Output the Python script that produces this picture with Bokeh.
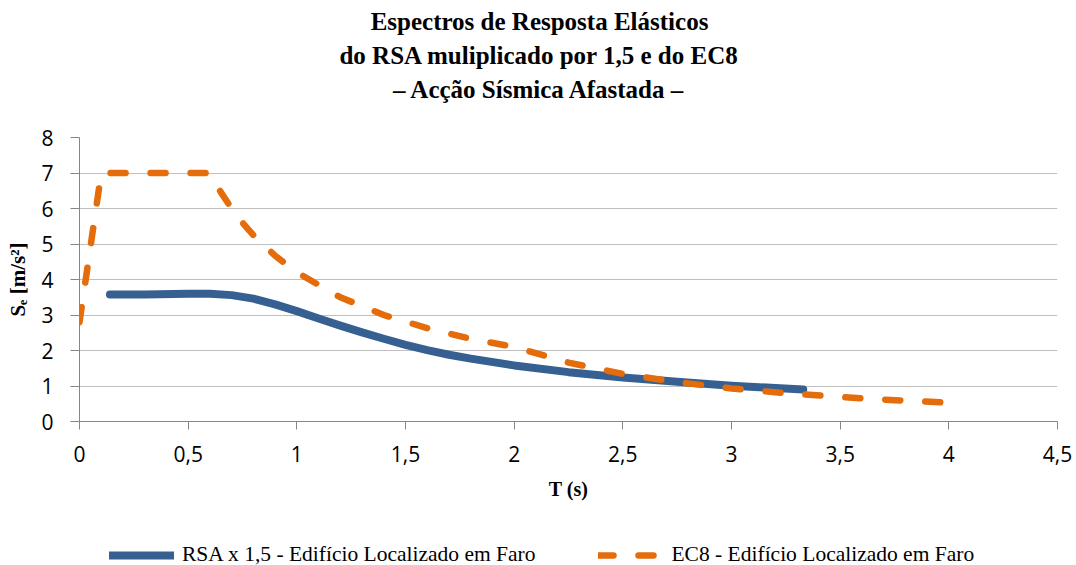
from bokeh.plotting import figure
from bokeh.models import Legend, LegendItem, FixedTicker, Range1d, Label
from bokeh.layouts import column
from bokeh.embed import file_html
from bokeh.resources import INLINE

# ---------------- data ----------------
title_lines = ["Espectros de Resposta Elásticos",
               "do RSA muliplicado por 1,5 e do EC8",
               "– Acção Sísmica Afastada –"]
x_label = "T (s)"
y_label = "Sₑ [m/s²]"

x_ticks = [0, 0.5, 1, 1.5, 2, 2.5, 3, 3.5, 4, 4.5]
x_tick_labels = ["0", "0,5", "1", "1,5", "2", "2,5", "3", "3,5", "4", "4,5"]
y_ticks = [0, 1, 2, 3, 4, 5, 6, 7, 8]

rsa_name = "RSA x 1,5 - Edifício Localizado em Faro"
rsa_T = [0.14, 0.3, 0.5, 0.6, 0.7, 0.8, 0.9, 1.0, 1.1, 1.2, 1.3, 1.4, 1.5,
         1.6, 1.7, 1.8, 2.0, 2.25, 2.5, 2.75, 3.0, 3.33]
rsa_Se = [3.58, 3.58, 3.60, 3.60, 3.56, 3.46, 3.30, 3.11, 2.90, 2.70, 2.51,
          2.33, 2.16, 2.01, 1.88, 1.77, 1.58, 1.39, 1.24, 1.12, 1.01, 0.90]

ec8_name = "EC8 - Edifício Localizado em Faro"
ec8_T = [0, 0.05, 0.1, 0.2, 0.3, 0.4, 0.5, 0.6, 0.65, 0.7, 0.75, 0.8, 0.9,
         1.0, 1.2, 1.4, 1.6, 1.8, 2.0, 2.25, 2.5, 2.75, 3.0, 3.25, 3.5, 3.75, 4.0]
ec8_Se = [2.8, 4.9, 7.0, 7.0, 7.0, 7.0, 7.0, 7.0, 6.46, 6.0, 5.6, 5.25, 4.67,
          4.2, 3.5, 3.0, 2.63, 2.33, 2.1, 1.66, 1.34, 1.11, 0.93, 0.8, 0.69,
          0.6, 0.53]

RSA_COLOR = "#376092"
EC8_COLOR = "#E46C0A"
W = 1076
H_TITLE, H_MAIN, H_LEG = 110, 410, 45
FRAME_LEFT = 79          # frames of the stacked figures are aligned to this


def blank_fig(height, yr=(0, 1)):
    f = figure(width=W, height=height, output_backend="svg", toolbar_location=None,
               x_range=Range1d(0, 1), y_range=Range1d(*yr),
               x_axis_location=None, y_axis_location=None,
               min_border_left=0, min_border_right=0,
               min_border_top=0, min_border_bottom=0)
    f.outline_line_color = None
    f.grid.visible = False
    return f


# ---------------- title block ----------------
pt = blank_fig(H_TITLE)
baselines = [21, 55, 89]          # baseline distance from the block top
for txt, b in zip(title_lines, baselines):
    pt.add_layout(Label(x=539 - FRAME_LEFT, y=H_TITLE - b,
                        x_units="screen", y_units="screen",
                        text=txt, text_align="center", text_baseline="alphabetic",
                        text_font="Liberation Serif", text_font_style="bold",
                        text_font_size="25px", text_color="black"))

# ---------------- main chart ----------------
p = figure(width=W, height=H_MAIN, output_backend="svg", toolbar_location=None,
           x_range=Range1d(0, 4.5), y_range=Range1d(0, 8),
           min_border_left=FRAME_LEFT, min_border_right=19,
           min_border_top=27, min_border_bottom=99)
p.outline_line_color = None
p.xgrid.grid_line_color = None
p.ygrid.grid_line_color = "#BFBFBF"
p.ygrid.grid_line_width = 1

AX = "#868686"
p.xaxis.ticker = FixedTicker(ticks=x_ticks)
p.xaxis.major_label_overrides = {float(t): l for t, l in zip(x_ticks, x_tick_labels)}
p.yaxis.ticker = FixedTicker(ticks=y_ticks)

for ax in (p.xaxis, p.yaxis):
    ax.axis_line_color = AX
    ax.axis_line_width = 1
    ax.major_tick_line_color = AX
    ax.major_tick_in = 0
    ax.minor_tick_line_color = None
    ax.major_label_text_font = "Open Sans"
    ax.major_label_text_font_size = "21px"
    ax.major_label_text_color = "black"
    ax.axis_label_text_font = "Liberation Serif"
    ax.axis_label_text_font_style = "bold"
    ax.axis_label_text_color = "black"

p.xaxis.major_tick_out = 8
p.yaxis.major_tick_out = 9
p.xaxis.major_label_standoff = 16
p.yaxis.major_label_standoff = 17

p.xaxis.axis_label = x_label
p.xaxis.axis_label_text_font_size = "20px"
p.xaxis.axis_label_standoff = 13

p.yaxis.axis_label = y_label
p.yaxis.axis_label_text_font_size = "21px"
p.yaxis.axis_label_standoff = 8

r_rsa = p.line(x=rsa_T, y=rsa_Se, line_color=RSA_COLOR, line_width=8,
               line_cap="round", line_join="round")
r_ec8 = p.line(x=ec8_T, y=ec8_Se, line_color=EC8_COLOR, line_width=6.5,
               line_dash="15 25", line_cap="round", line_join="round")

# ---------------- legend block (its own strip; series kept out of view) ----------------
pl = blank_fig(H_LEG, yr=(100, 101))
l_rsa = pl.line(x=rsa_T, y=rsa_Se, line_color=RSA_COLOR, line_width=8,
                line_cap="round")
l_ec8 = pl.line(x=ec8_T, y=ec8_Se, line_color=EC8_COLOR, line_width=6.5,
                line_dash="15 25", line_cap="round")
legend = Legend(items=[LegendItem(label=rsa_name, renderers=[l_rsa]),
                       LegendItem(label=ec8_name, renderers=[l_ec8])],
                orientation="horizontal", location=(109 - FRAME_LEFT, -2),
                border_line_color=None, background_fill_alpha=0,
                padding=0, margin=0, spacing=63,
                glyph_width=65, glyph_height=20, label_standoff=8,
                label_text_font="Liberation Serif", label_text_font_size="21.5px",
                label_text_color="black")
pl.add_layout(legend)

layout = column(pt, p, pl, spacing=0)
open("out.html", "w").write(file_html(layout, INLINE))
